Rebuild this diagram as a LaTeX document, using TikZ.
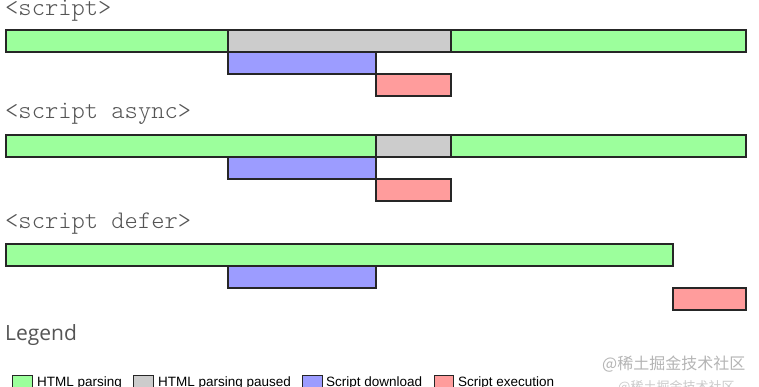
\documentclass[tikz,border=0pt]{standalone}
\usepackage{fontspec}
\newfontfamily\monofont{Latin Modern Mono Light}
\newfontfamily\legfont{Open Sans}
\newfontfamily\arialfont{Liberation Sans}
\newfontfamily\cjk{Noto Sans CJK SC}
\definecolor{parse}{HTML}{9CFF9C}
\definecolor{paused}{HTML}{CCCCCC}
\definecolor{dload}{HTML}{9C9CFF}
\definecolor{exec}{HTML}{FF9C9C}
\definecolor{txtgray}{HTML}{555555}
\definecolor{wm}{HTML}{B4B4B4}
\tikzset{
  seg/.style={draw=black!85, line width=1.3pt},
  lbox/.style={draw=black!85, line width=1pt},
  title/.style={anchor=base west, inner sep=0pt, font=\monofont\fontsize{25.3}{25.3}\selectfont, text=txtgray},
  legtxt/.style={anchor=base west, inner sep=0pt, font=\arialfont\fontsize{13.5}{13.5}\selectfont, text=black},
}
\begin{document}
\begin{tikzpicture}[x=1pt,y=-1pt]
\useasboundingbox (0,0) rectangle (759,387);
% row 1
\node[title] (t1) at (5,16) {<script>};
\path[seg, fill=parse] (6,30) rectangle (228,52);
\path[seg, fill=paused] (228,30) rectangle (451,52);
\path[seg, fill=parse] (451,30) rectangle (746,52);
\path[seg, fill=dload] (228,52) rectangle (376,74);
\path[seg, fill=exec] (376,74) rectangle (451,96);
% row 2
\node[title] (t2) at (5,119) {<script async>};
\path[seg, fill=parse] (6,135) rectangle (376,157);
\path[seg, fill=paused] (376,135) rectangle (451,157);
\path[seg, fill=parse] (451,135) rectangle (746,157);
\path[seg, fill=dload] (228,157) rectangle (376,179);
\path[seg, fill=exec] (376,179) rectangle (451,201);
% row 3
\node[title] (t3) at (5,228) {<script defer>};
\path[seg, fill=parse] (6,244) rectangle (673,266);
\path[seg, fill=dload] (228,266) rectangle (376,288);
\path[seg, fill=exec] (673,288) rectangle (746,310);
% legend
\node[anchor=base west, inner sep=0pt, font=\legfont\fontsize{21}{21}\selectfont, text=txtgray] (leg) at (5,340) {Legend};
\path[lbox, fill=parse] (12,375) rectangle (32,390);
\node[legtxt] (l1) at (37,386) {HTML parsing};
\path[lbox, fill=paused] (133,375) rectangle (153,390);
\node[legtxt] (l2) at (158,386) {HTML parsing paused};
\path[lbox, fill=dload] (302,375) rectangle (322,390);
\node[legtxt] (l3) at (326,386) {Script download};
\path[lbox, fill=exec] (434,375) rectangle (453,390);
\node[legtxt] (l4) at (458,386) {Script execution};
% watermark
\node[anchor=base west, inner sep=0pt, font=\cjk\fontsize{16}{16}\selectfont, text=wm] (wm1) at (602,369) {@稀土掘金技术社区};
\node[anchor=base west, inner sep=0pt, font=\cjk\fontsize{13}{13}\selectfont, text=wm!70] (wm2) at (618,391) {@稀土掘金技术社区};
\end{tikzpicture}
\end{document}
